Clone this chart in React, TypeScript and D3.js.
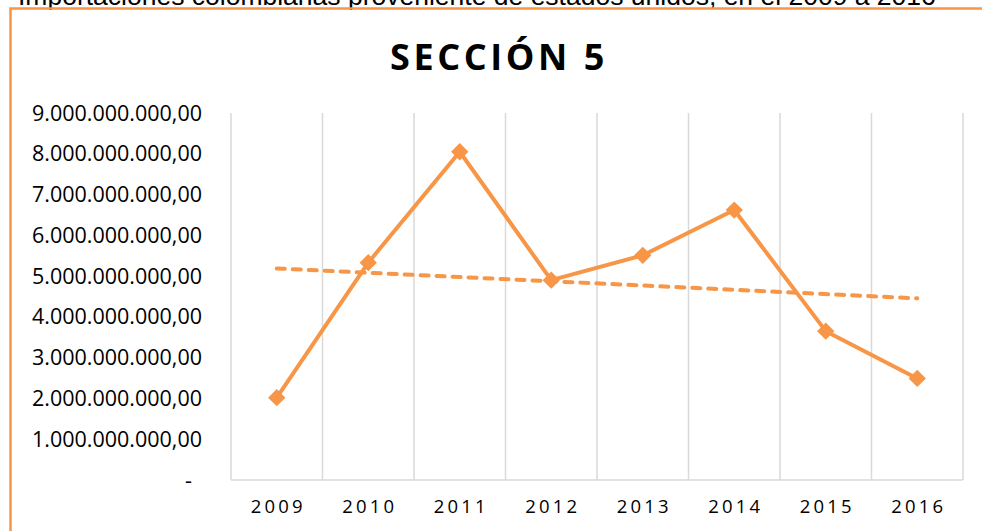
import React from "react";
import * as d3 from "d3";

const years: string[] = ["2009", "2010", "2011", "2012", "2013", "2014", "2015", "2016"];
const values: number[] = [2.02e9, 5.33e9, 8.05e9, 4.9e9, 5.51e9, 6.62e9, 3.65e9, 2.49e9];
const yTicks: number[] = [0, 1e9, 2e9, 3e9, 4e9, 5e9, 6e9, 7e9, 8e9, 9e9];
const title = "SECCIÓN 5";
const caption = "Importaciones colombianas proveniente de estados unidos, en el 2009 a 2016";

const ORANGE = "#F79646";
const GRID = "#D9D9D9";

const locale = d3.formatLocale({ decimal: ",", thousands: ".", grouping: [3], currency: ["$", ""] });
const fmt = locale.format(",.2f");

export default function App() {
  const W = 982, H = 531;
  const left = 231, right = 963, top = 113, bottom = 480;

  const x = d3.scaleBand<string>().domain(years).range([left, right]);
  const cx = (yr: string) => (x(yr) as number) + x.bandwidth() / 2;
  const y = d3.scaleLinear().domain([0, 9e9]).range([bottom, top]);

  const pts = years.map((yr, i) => ({ yr, v: values[i] }));
  const line = d3.line<{ yr: string; v: number }>().x(d => cx(d.yr)).y(d => y(d.v));

  // linear trendline (least squares), as Excel
  const n = values.length;
  const idx = values.map((_, i) => i + 1);
  const mx = d3.mean(idx) as number;
  const my = d3.mean(values) as number;
  const sxy = d3.sum(idx.map((xi, i) => (xi - mx) * (values[i] - my)));
  const sxx = d3.sum(idx.map(xi => (xi - mx) ** 2));
  const slope = sxy / sxx;
  const icpt = my - slope * mx;
  const trend = [
    { yr: years[0], v: icpt + slope * 1 },
    { yr: years[n - 1], v: icpt + slope * n },
  ];

  const diamond = d3.symbol().type(d3.symbolSquare).size(150)() as string;
  const bounds = [...years.map(yr => x(yr) as number), right];

  return (
    <svg width={W} height={H} style={{ position: "absolute", left: 0, top: 0, background: "#fff" }}>
      <rect x={0} y={0} width={W} height={H} fill="#fff" />
      <text x={18} y={4.5} fontFamily="'Liberation Sans', Arial, sans-serif" fontSize={26.5} fill="#000">
        {caption}
      </text>
      <path d={`M10.5,${H} L10.5,8.5 L${W},8.5`} fill="none" stroke={ORANGE} strokeWidth={2.5} />

      <text x={499} y={70} textAnchor="middle" fontFamily="'Open Sans', sans-serif" fontWeight={700} fontSize={36} letterSpacing={3.6} fill="#000">
        {title}
      </text>

      {bounds.map((bx, i) => (
        <line key={i} x1={bx} x2={bx} y1={top} y2={bottom} stroke={GRID} strokeWidth={1.5} />
      ))}
      <line x1={left} x2={right} y1={bottom} y2={bottom} stroke={GRID} strokeWidth={1.5} />

      {yTicks.map(t => (
        <text
          key={t}
          x={t === 0 ? 192 : 202}
          y={y(t)}
          dy="0.35em"
          textAnchor="end"
          fontFamily="'Open Sans', sans-serif"
          fontSize={21.5}
          fill="#000"
        >
          {t === 0 ? "-" : fmt(t)}
        </text>
      ))}

      {years.map(yr => (
        <text
          key={yr}
          x={cx(yr) + 1.5}
          y={507}
          dy="0.35em"
          textAnchor="middle"
          fontFamily="'Open Sans', sans-serif"
          fontSize={18.5}
          letterSpacing={3.2}
          fill="#000"
        >
          {yr}
        </text>
      ))}

      <path d={line(trend) as string} fill="none" stroke={ORANGE} strokeWidth={4} strokeDasharray="8 8" strokeLinecap="round" />
      <path d={line(pts) as string} fill="none" stroke={ORANGE} strokeWidth={4} strokeLinejoin="round" />
      {pts.map(p => (
        <path key={p.yr} d={diamond} transform={`translate(${cx(p.yr)},${y(p.v)}) rotate(45)`} fill={ORANGE} />
      ))}
    </svg>
  );
}
